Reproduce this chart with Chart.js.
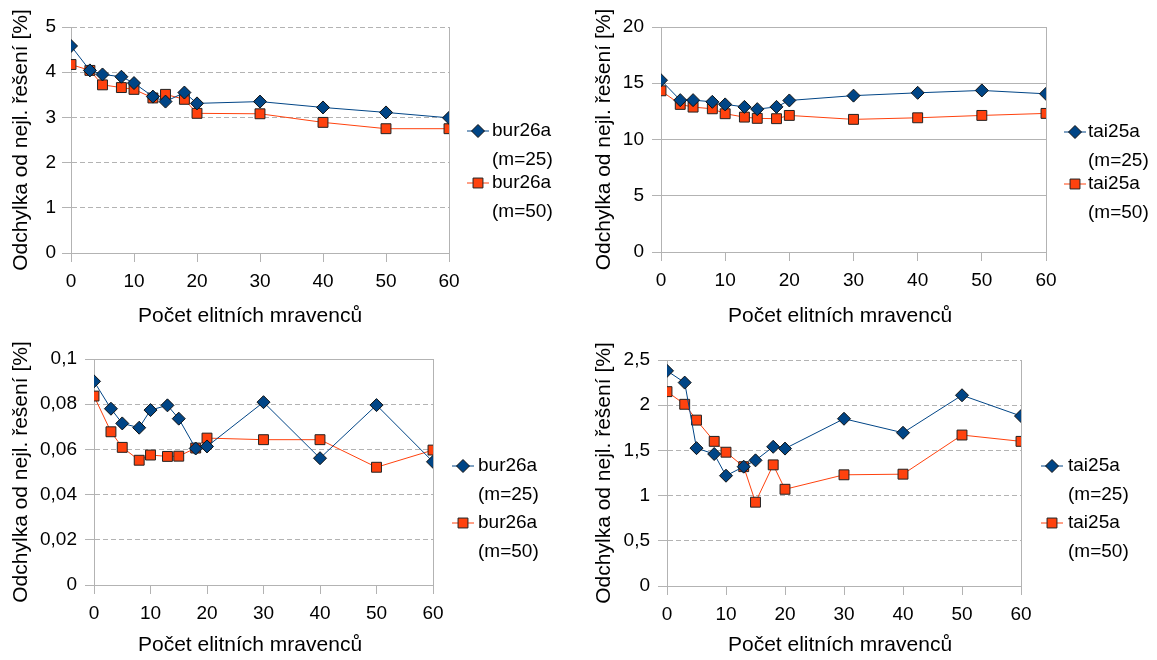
<!DOCTYPE html>
<html>
<head>
<meta charset="utf-8">
<script src="https://cdn.jsdelivr.net/npm/chart.js@4"></script>
<style>
  body { margin: 0; background: #fff; }
  #wrap { position: relative; width: 1157px; height: 660px; }
  canvas { position: absolute; }
</style>
</head>
<body>
<div id="wrap">
  <canvas id="c1" width="578" height="330" style="left:0;top:0"></canvas>
  <canvas id="c2" width="579" height="330" style="left:578px;top:0"></canvas>
  <canvas id="c3" width="578" height="330" style="left:0;top:330px"></canvas>
  <canvas id="c4" width="579" height="330" style="left:578px;top:330px"></canvas>
</div>
<script>
// pocet elitnich mravencu (osa x)
const elitni = [0, 3, 5, 8, 10, 13, 15, 18, 20, 30, 40, 50, 60];

// horni rada grafu
const bur25Horni = [4.58, 4.04, 3.95, 3.90, 3.76, 3.46, 3.35, 3.55, 3.31, 3.35, 3.22, 3.11, 2.99];
const bur50Horni = [4.17, 4.04, 3.72, 3.66, 3.62, 3.43, 3.51, 3.40, 3.09, 3.08, 2.89, 2.75, 2.75];
const tai25Horni = [15.27, 13.5, 13.5, 13.35, 13.12, 12.9, 12.7, 12.9, 13.47, 13.9, 14.15, 14.36, 14.06];
const tai50Horni = [14.33, 13.12, 12.88, 12.73, 12.29, 11.99, 11.88, 11.85, 12.14, 11.79, 11.93, 12.14, 12.32];

// dolni rada grafu
const bur25Dolni = [0.0901, 0.0780, 0.0715, 0.0696, 0.0774, 0.0795, 0.0736, 0.0604, 0.0613, 0.0809, 0.0561, 0.0796, 0.0545];
const bur50Dolni = [0.0836, 0.0678, 0.0609, 0.0552, 0.0575, 0.0569, 0.0570, 0.0606, 0.0650, 0.0643, 0.0643, 0.0521, 0.0597];
const tai25Dolni = [2.38, 2.25, 1.525, 1.46, 1.22, 1.32, 1.39, 1.54, 1.52, 1.85, 1.695, 2.11, 1.88];
const tai50Dolni = [2.15, 2.01, 1.835, 1.60, 1.48, 1.32, 0.927, 1.34, 1.07, 1.23, 1.237, 1.67, 1.60];

const xTitulek = "Počet elitních mravenců";
const yTitulek = "Odchylka od nejl. řešení [%]";

const rodina = "'Liberation Sans', Arial, sans-serif";
const pismoTitulek = { family: rodina, size: 21 };
const pismoTicky = { family: rodina, size: 19 };
const seda = "#b3b3b3";

// legenda vpravo od grafu (dvouradkove popisky) + popisek osy x
const bocniLegenda = {
  id: "bocniLegenda",
  afterDraw(chart, args, opts) {
    const ctx = chart.ctx;
    ctx.save();
    chart.data.datasets.forEach((ds, i) => {
      const y = opts.y[i];
      ctx.strokeStyle = ds.borderColor;
      ctx.lineWidth = 1;
      ctx.beginPath();
      ctx.moveTo(opts.x - 11, y);
      ctx.lineTo(opts.x + 11, y);
      ctx.stroke();
      ctx.fillStyle = ds.pointBackgroundColor;
      ctx.strokeStyle = ds.pointBorderColor;
      Chart.helpers.drawPoint(ctx, { pointStyle: ds.pointStyle, radius: ds.pointRadius, borderWidth: 1 }, opts.x, y);
      ctx.fillStyle = "#000";
      ctx.font = "19px " + rodina;
      ctx.textBaseline = "middle";
      ctx.textAlign = "left";
      ds.label.forEach((t, j) => ctx.fillText(t, opts.textX, y + j * 29));
    });
    // popisek osy x (v originale neni presne na stredu grafu)
    ctx.fillStyle = "#000";
    ctx.font = "21px " + rodina;
    ctx.textAlign = "center";
    ctx.textBaseline = "middle";
    ctx.fillText(xTitulek, opts.titulekX, opts.titulekY);
    ctx.restore();
  },
};

function body(hodnoty) {
  return elitni.map((x, i) => ({ x: x, y: hodnoty[i] }));
}

function carka(v) {
  return String(+v.toFixed(3)).replace(".", ",");
}

function graf(id, nazev, s25, s50, p) {
  const ctx = document.getElementById(id).getContext("2d");
  return new Chart(ctx, {
    type: "line",
    data: {
      datasets: [
        {
          label: [nazev, "(m=25)"],
          data: body(s25),
          borderColor: "#004586",
          borderWidth: 1,
          pointStyle: "rectRot",
          pointRadius: 6.5,
          pointBackgroundColor: "#004586",
          pointBorderColor: "#111",
          pointBorderWidth: 1,
        },
        {
          label: [nazev, "(m=50)"],
          data: body(s50),
          borderColor: "#ff420e",
          borderWidth: 1,
          pointStyle: "rect",
          pointRadius: 7,
          pointBackgroundColor: "#ff420e",
          pointBorderColor: "#222",
          pointBorderWidth: 1,
        },
      ],
    },
    options: {
      responsive: false,
      animation: false,
      layout: { padding: { left: 0, top: p.top, right: p.right, bottom: 0 } },
      plugins: {
        legend: { display: false },
        tooltip: { enabled: false },
        bocniLegenda: p.legenda,
      },
      scales: {
        x: {
          type: "linear",
          min: 0,
          max: 60,
          afterFit: (s) => { s.height = p.xh; },
          ticks: { stepSize: 10, font: pismoTicky, color: "#000", padding: 8 },
          grid: {
            color: (c) => (c.tick && c.tick.value === 60 ? seda : "rgba(0,0,0,0)"),
            tickColor: seda,
            tickLength: 9,
          },
          border: { color: seda },
          title: { display: false },
        },
        y: {
          min: 0,
          max: p.max,
          afterFit: (s) => { s.width = p.left; },
          ticks: { stepSize: p.step, font: pismoTicky, color: "#000", padding: p.tp, callback: (v) => carka(v) },
          grid: { color: seda, tickColor: seda, tickLength: 9 },
          border: {
            color: seda,
            dash: (c) => (p.plnyVrch && c.tick && c.tick.value >= p.max - 1e-9 ? [] : p.dash),
          },
          title: { display: true, text: yTitulek, font: pismoTitulek, color: "#000", padding: { top: p.ytp, bottom: 0 } },
        },
      },
    },
    plugins: [bocniLegenda],
  });
}

graf("c1", "bur26a", bur25Horni, bur50Horni, {
  top: 27, right: 129, left: 71, xh: 77, max: 5, step: 1, tp: 6, dash: [5, 3], ytp: 9,
  legenda: { x: 478, textX: 492, y: [131, 183], titulekX: 250, titulekY: 316 },
});
graf("c2", "tai25a", tai25Horni, tai50Horni, {
  top: 27, right: 111, left: 83, xh: 78, max: 20, step: 5, tp: 8, dash: [], ytp: 14,
  legenda: { x: 497, textX: 510, y: [132, 184], titulekX: 262, titulekY: 316 },
});
graf("c3", "bur26a", bur25Dolni, bur50Dolni, {
  top: 29, right: 145, left: 94, xh: 75, max: 0.1, step: 0.02, tp: 8, dash: [5, 3], ytp: 9, plnyVrch: true,
  legenda: { x: 463, textX: 478, y: [136, 193], titulekX: 250, titulekY: 315 },
});
graf("c4", "tai25a", tai25Dolni, tai50Dolni, {
  top: 30, right: 136, left: 89, xh: 74, max: 2.5, step: 0.5, tp: 8, dash: [5, 3], ytp: 14,
  legenda: { x: 474, textX: 490, y: [136, 193], titulekX: 262, titulekY: 315 },
});
</script>
</body>
</html>
